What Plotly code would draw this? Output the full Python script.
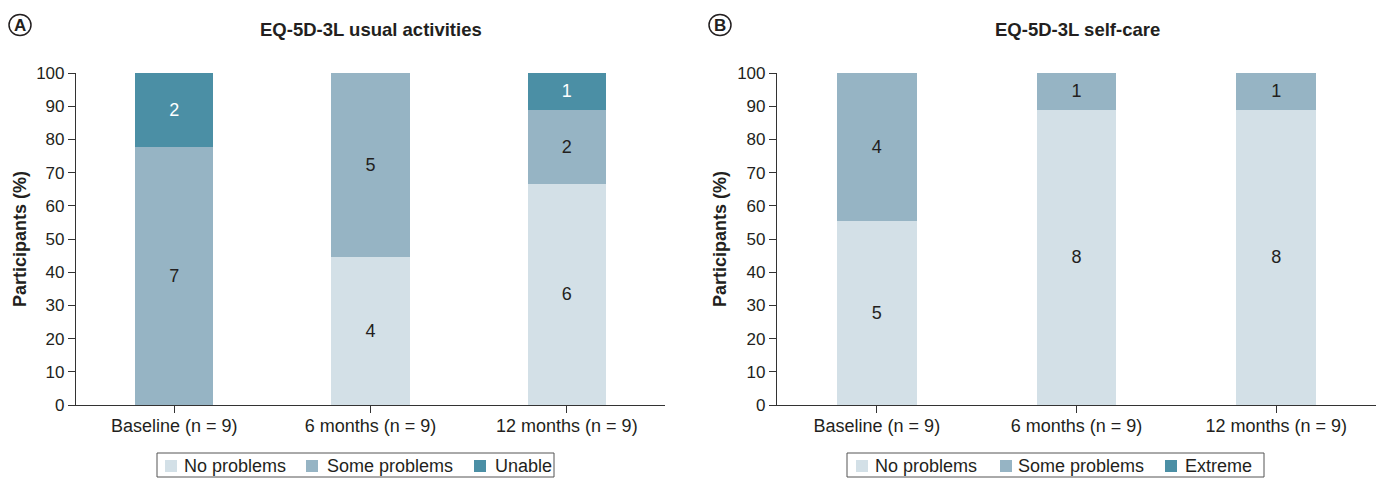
import plotly.graph_objects as go

# Time points and participant counts per response level (n = 9 at each visit)
timepoints = ["Baseline (n = 9)", "6 months (n = 9)", "12 months (n = 9)"]
n_total = 9

ua_none = [0, 4, 6]
ua_some = [7, 5, 2]
ua_unable = [2, 0, 1]

sc_none = [5, 8, 8]
sc_some = [4, 1, 1]
sc_extreme = [0, 0, 0]

C_NONE = "#d3e0e7"
C_SOME = "#96b4c4"
C_TOP = "#4b8fa5"
FONT = "Liberation Sans, Arial, sans-serif"
INK = "#231f20"

W, H = 1378, 478


def pct(counts):
    return [c / n_total * 100 for c in counts]


def labels(counts):
    return [str(c) if c > 0 else "" for c in counts]


def px(x):
    return x / W


def py(y):
    return (H - y) / H


fig = go.Figure()

panels = [
    ("x", "y", [("No problems", ua_none, C_NONE, INK),
                ("Some problems", ua_some, C_SOME, INK),
                ("Unable", ua_unable, C_TOP, "white")]),
    ("x2", "y2", [("No problems", sc_none, C_NONE, INK),
                  ("Some problems", sc_some, C_SOME, INK),
                  ("Extreme", sc_extreme, C_TOP, "white")]),
]

for xa, ya, series in panels:
    for name, counts, color, tcolor in series:
        fig.add_trace(go.Bar(
            x=timepoints, y=pct(counts), name=name,
            marker=dict(color=color, line=dict(width=0)),
            text=labels(counts), textposition="inside",
            insidetextanchor="middle", textangle=0,
            textfont=dict(family=FONT, size=18, color=tcolor),
            width=0.4, xaxis=xa, yaxis=ya,
            showlegend=False, hoverinfo="skip",
        ))

axis_common = dict(
    showline=True, linecolor="#333333", linewidth=1.2,
    ticks="outside", ticklen=7, tickcolor="#333333", tickwidth=1.2,
    showgrid=False, zeroline=False,
)
xfont = dict(family=FONT, size=18, color=INK)
yfont = dict(family=FONT, size=17, color=INK)

dom_a = [px(76), px(665)]
dom_b = [px(777), px(1376)]
dom_y = [py(405), py(73)]

fig.update_layout(
    width=W, height=H,
    margin=dict(l=0, r=0, t=0, b=0, autoexpand=False),
    paper_bgcolor="white", plot_bgcolor="white",
    barmode="stack", showlegend=False,
    font=dict(family=FONT, color=INK),
    xaxis=dict(domain=dom_a, anchor="y", range=[-0.5, 2.5], tickfont=xfont,
               ticklabelstandoff=-3, **axis_common),
    yaxis=dict(domain=dom_y, anchor="x", range=[0, 100], dtick=10, tickfont=yfont, **axis_common),
    xaxis2=dict(domain=dom_b, anchor="y2", range=[-0.5, 2.5], tickfont=xfont,
                ticklabelstandoff=-3, **axis_common),
    yaxis2=dict(domain=dom_y, anchor="x2", range=[0, 100], dtick=10, tickfont=yfont, **axis_common),
)

# Panel titles and y-axis titles
for cx, title, ytitle_x in [(371, "EQ-5D-3L usual activities", 20),
                            (1077, "EQ-5D-3L self-care", 720)]:
    fig.add_annotation(x=px(cx), y=py(29), xref="paper", yref="paper",
                       xanchor="center", yanchor="middle",
                       text="<b>%s</b>" % title, showarrow=False,
                       font=dict(family=FONT, size=18.5, color=INK))
    fig.add_annotation(x=px(ytitle_x), y=py(239), xref="paper", yref="paper",
                       xanchor="center", yanchor="middle",
                       text="<b>Participants (%)</b>", textangle=-90, showarrow=False,
                       font=dict(family=FONT, size=18, color=INK))

# Circled panel letters
for cx, letter in [(20, "A"), (720, "B")]:
    fig.add_shape(type="circle", xref="paper", yref="paper",
                  x0=px(cx - 11), x1=px(cx + 11),
                  y0=py(25 + 10.5), y1=py(25 - 10.5),
                  line=dict(color=INK, width=1.5), fillcolor="rgba(0,0,0,0)")
    fig.add_annotation(x=px(cx), y=py(25), xref="paper", yref="paper",
                       xanchor="center", yanchor="middle",
                       text="<b>%s</b>" % letter, showarrow=False,
                       font=dict(family=FONT, size=17, color=INK))

# Boxed legends beneath each panel: (box x0, box x1, [(swatch x0, text x0), ...])
legend_layout = [
    (157, 554, [(165, 182), (306, 325), (474, 493)]),
    (847, 1264, [(856, 873), (1000, 1016), (1165, 1183)]),
]
for (bx0, bx1, slots), (_, _, series) in zip(legend_layout, panels):
    fig.add_shape(type="rect", xref="paper", yref="paper",
                  x0=px(bx0), x1=px(bx1), y0=py(477), y1=py(453),
                  line=dict(color="#555555", width=1), fillcolor="white")
    for (sx, tx), (name, _, color, _) in zip(slots, series):
        fig.add_shape(type="rect", xref="paper", yref="paper",
                      x0=px(sx), x1=px(sx + 12), y0=py(472), y1=py(460),
                      line=dict(width=0), fillcolor=color)
        fig.add_annotation(x=px(tx), y=py(466), xref="paper", yref="paper",
                           xanchor="left", yanchor="middle",
                           text=name, showarrow=False,
                           font=dict(family=FONT, size=18, color=INK))

fig.write_html("out.html")
